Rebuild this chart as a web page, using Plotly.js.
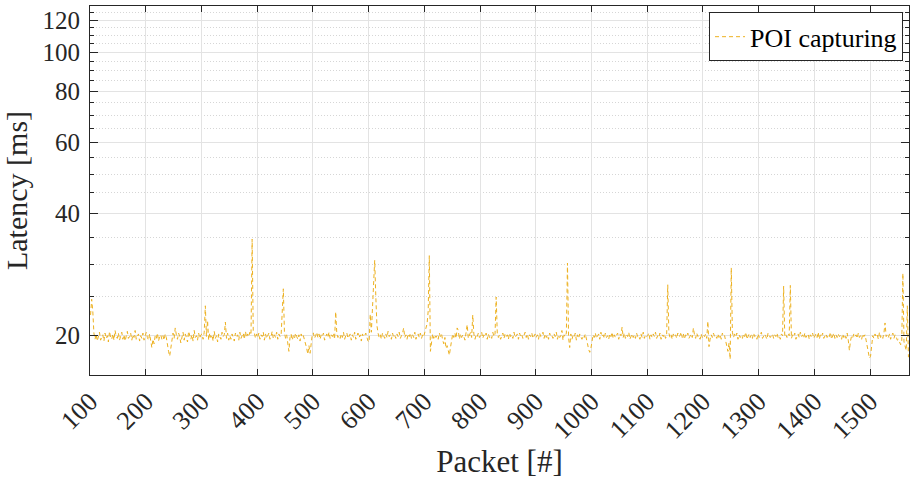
<!DOCTYPE html>
<html>
<head>
<meta charset="utf-8">
<script src="https://cdn.plot.ly/plotly-3.0.1.min.js"></script>
<style>
html,body{margin:0;padding:0;background:#fff;}
#chart{width:911px;height:484px;}
</style>
</head>
<body>
<div id="chart"></div>
<script>
// Packet numbers: every 2nd packet from 101 to 1569
const firstPacket = 101;
const packetStep = 2;
// Latency [ms]
const latency = [
22.5,24.6,23.0,20.3,19.6,20.2,19.4,19.9,20.4,19.5,19.8,20.1,19.4,20.3,19.7,20.0,19.3,20.5,19.8,19.6,20.2,19.5,20.6,19.9,19.7,
20.3,19.5,19.9,20.4,19.6,20.1,19.4,20.0,20.5,19.7,19.9,20.3,19.5,20.1,19.8,20.6,19.6,19.9,20.2,19.4,20.0,19.7,20.3,19.5,20.1,
20.4,19.8,19.5,20.2,19.3,18.7,19.6,19.1,20.0,19.7,20.3,19.4,19.9,20.1,19.6,20.0,19.5,20.2,19.8,18.9,18.3,17.8,18.5,19.4,20.3,
19.7,20.9,20.1,19.6,20.3,19.9,19.2,20.0,20.4,19.5,20.2,19.8,19.3,20.5,19.9,19.6,20.1,19.4,20.6,19.8,20.0,19.5,20.3,19.7,20.1,
20.2,19.6,20.4,23.7,19.9,21.8,19.5,20.3,19.8,20.1,19.4,20.5,19.7,20.0,19.3,20.2,19.8,19.6,20.4,19.9,20.1,21.6,19.7,20.3,19.5,
20.0,19.6,20.2,19.8,19.4,20.3,19.9,20.1,19.5,20.4,19.7,20.0,20.3,19.6,20.5,19.8,20.2,19.9,20.4,20.1,34.6,20.6,20.3,19.7,20.2,
19.8,20.3,19.6,20.1,19.9,20.4,19.5,20.2,19.7,20.0,20.3,19.6,19.9,20.5,19.7,20.1,19.8,20.4,19.6,20.2,19.9,20.0,22.3,26.1,20.4,
19.7,20.1,19.4,18.3,19.8,20.2,19.5,20.0,19.7,20.3,19.9,19.6,20.1,19.4,20.2,19.8,20.0,19.5,19.3,18.6,18.0,18.9,18.1,19.6,20.2,
20.3,19.7,20.0,20.4,19.8,20.2,19.6,20.1,19.9,20.3,19.5,20.0,20.2,19.8,20.4,19.7,20.1,19.9,20.3,19.6,22.9,20.2,19.8,20.0,19.7,
20.2,19.8,20.4,19.6,20.0,20.3,19.7,19.9,20.2,19.5,20.1,19.8,20.4,19.6,20.0,20.3,19.8,20.1,19.4,20.2,19.9,20.0,20.3,19.7,19.4,
19.3,22.6,20.4,22.8,27.2,30.7,25.0,21.2,20.3,19.8,20.1,19.6,20.3,20.0,19.7,20.2,19.8,20.5,19.9,20.1,19.6,20.3,19.8,20.0,19.7,
20.2,19.9,20.4,19.7,20.0,20.3,20.9,19.8,20.1,19.6,20.2,19.9,20.3,19.7,20.1,19.8,20.4,19.6,20.0,20.2,19.8,20.3,19.7,20.1,19.9,
20.3,20.8,21.4,23.0,31.5,18.3,19.6,20.2,19.7,20.1,19.8,20.0,19.6,20.3,19.9,20.2,19.5,19.1,19.8,18.6,18.9,18.2,17.9,18.7,19.6,
20.2,19.8,20.3,19.7,20.9,20.6,19.6,20.2,19.8,20.1,19.9,19.5,20.3,21.3,19.7,20.0,20.4,19.8,22.5,20.2,19.6,20.1,19.9,20.3,19.8,
20.0,20.4,19.7,20.1,19.9,20.3,19.6,20.2,19.8,20.0,19.7,20.4,19.9,20.2,24.9,20.3,19.8,20.1,19.6,20.0,20.3,19.7,20.2,19.9,20.1,
19.6,20.3,19.9,20.1,19.7,20.4,19.8,20.0,20.2,19.6,20.3,19.9,20.1,19.7,20.0,20.4,19.8,20.2,19.6,20.1,19.9,20.3,19.7,20.0,20.2,
19.8,20.1,19.6,20.3,19.9,20.0,20.4,19.7,20.2,19.8,20.1,19.6,20.3,19.9,20.0,19.7,20.2,19.9,20.4,19.6,20.1,19.8,20.0,20.6,19.5,
20.1,19.9,20.3,30.2,19.8,18.7,20.2,19.6,20.0,19.8,20.3,19.5,20.1,19.7,20.2,19.9,19.6,20.0,19.8,20.2,19.4,19.1,18.5,18.2,18.6,
19.3,20.1,19.8,20.3,19.7,20.0,20.2,19.6,20.4,19.9,20.1,19.7,20.3,19.8,20.0,19.6,20.2,19.9,20.4,19.7,20.1,19.8,20.0,20.3,19.6,
20.2,20.0,21.0,19.8,20.3,19.7,20.1,19.9,20.4,19.6,20.0,20.2,19.8,20.1,19.7,20.3,19.9,20.0,19.6,20.2,19.8,20.4,19.7,20.1,19.9,
20.0,20.3,19.6,20.1,19.8,20.2,19.9,20.4,19.7,20.0,19.8,20.3,19.6,20.1,19.9,20.2,19.7,20.0,26.7,20.3,19.8,20.1,19.6,20.2,19.9,
20.1,19.7,20.3,19.9,20.0,20.4,19.8,20.2,19.6,20.1,19.9,20.3,19.7,20.0,20.2,19.8,20.9,20.1,19.7,20.3,19.9,20.0,19.6,20.2,19.8,
20.1,19.9,20.2,19.7,21.7,18.8,19.6,20.1,19.8,20.3,19.9,20.0,19.7,20.2,19.8,20.1,19.6,20.3,19.9,20.0,19.4,18.9,18.3,19.2,17.5,
29.4,20.4,19.8,20.2,19.9,20.3,19.6,20.1,19.8,20.0,19.7,20.2,19.9,20.4,19.6,20.0,20.2,19.8,20.1,19.7,20.3,19.9,20.0,19.6,20.2,
19.8,20.1,20.4,19.7,20.0,20.2,19.9,19.6,20.3,20.1,19.8,20.0,20.2,19.7,20.1,19.9,20.3,19.8,20.0,19.6,20.2,20.0,26.5,19.9,20.1,
19.8,20.2,20.0,26.6,19.7,20.1,19.9,20.3,19.6,20.0,20.2,19.8,20.4,19.9,20.1,19.7,20.3,19.8,20.0,20.2,19.6,20.1,19.9,20.3,19.7,
20.0,20.2,19.8,20.4,19.6,20.1,19.9,20.3,19.7,20.0,20.2,19.8,20.1,19.9,20.4,19.6,20.0,20.3,19.7,20.1,19.8,20.2,19.9,20.0,19.6,
20.2,19.8,20.1,19.7,20.3,19.5,18.4,19.4,20.0,19.8,20.2,19.9,20.1,19.7,20.3,19.8,20.0,19.6,20.2,19.9,20.1,19.5,18.9,18.4,17.6,
17.8,19.3,20.0,19.7,20.2,19.9,20.1,19.6,20.4,19.8,20.0,19.7,20.3,21.5,19.9,20.1,19.8,20.2,19.6,20.0,20.3,19.7,20.1,19.9,19.5,
19.6,19.2,19.0,19.4,28.5,19.3,18.8,18.4,23.7,17.7
];
const packets = latency.map((_, i) => firstPacket + i * packetStep);

const xTicks = [100,200,300,400,500,600,700,800,900,1000,1100,1200,1300,1400,1500];
const yTicks = [20,40,60,80,100,120];
const yMinorTicks = [25,30,35,45,50,55,65,70,75,85,90,95,105,110,115,125,130];
const seriesName = 'POI capturing';

const FONT = '"Liberation Serif", "Times New Roman", serif';
const AX = '#262626';

const trace = {
  x: packets,
  y: latency,
  type: 'scatter',
  mode: 'lines',
  name: seriesName,
  line: {color: '#EDB120', width: 1, dash: '4px,3px'}
};

const layout = {
  width: 911, height: 484,
  margin: {l: 90, r: 2, t: 6, b: 109},
  paper_bgcolor: '#fff', plot_bgcolor: '#fff',
  font: {family: FONT, color: AX, size: 26},
  showlegend: true,
  legend: {
    x: 0.9927, xanchor: 'right', y: 0.983, yanchor: 'top',
    bgcolor: '#fff', bordercolor: AX, borderwidth: 1,
    font: {family: FONT, size: 26, color: '#000'},
    tracegroupgap: 0, itemwidth: 30
  },
  xaxis: {
    range: [100, 1570],
    tickmode: 'array', tickvals: xTicks, ticktext: xTicks.map(String),
    tickangle: -45,
    ticks: 'inside', ticklen: 6, tickcolor: AX,
    showline: true, linecolor: AX, linewidth: 1, mirror: 'ticks',
    showgrid: true, gridcolor: '#e3e3e3', gridwidth: 1,
    zeroline: false,
    tickfont: {family: FONT, size: 26, color: AX},
    title: {text: 'Packet [#]', font: {family: FONT, size: 31, color: AX}, standoff: 6}
  },
  yaxis: {
    type: 'log',
    range: [Math.log10(16), Math.log10(130)],
    tickmode: 'array', tickvals: yTicks, ticktext: yTicks.map(String),
    ticks: 'inside', ticklen: 8, tickcolor: AX,
    ticklabelstandoff: 4,
    showline: true, linecolor: AX, linewidth: 1, mirror: 'ticks',
    showgrid: true, gridcolor: '#e3e3e3', gridwidth: 1,
    zeroline: false,
    tickfont: {family: FONT, size: 25, color: AX},
    minor: {tickmode: 'array', tickvals: yMinorTicks, ticks: 'inside', ticklen: 4, tickcolor: AX,
            showgrid: true, gridcolor: '#d6d6d6', gridwidth: 1, griddash: '1px,2px'},
    title: {text: 'Latency [ms]', font: {family: FONT, size: 30, color: AX}, standoff: 8}
  }
};

Plotly.newPlot('chart', [trace], layout, {displayModeBar: false, staticPlot: true});
</script>
</body>
</html>
